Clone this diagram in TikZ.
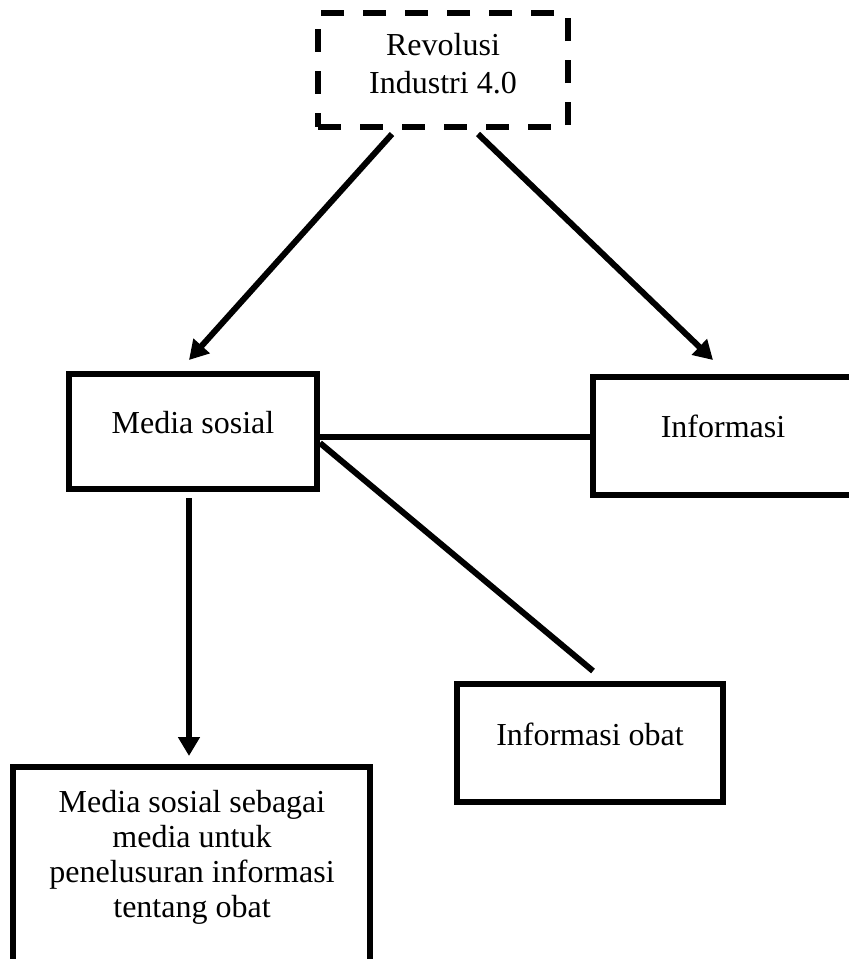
\documentclass[tikz,border=0pt]{standalone}
\usepackage{fontspec}
\setmainfont{Liberation Serif}
\usetikzlibrary{arrows.meta,calc}
\begin{document}
\begin{tikzpicture}[x=1pt,y=-1pt,
  box/.style={draw, line width=6pt, rectangle, inner sep=0pt},
  dashbox/.style={box, dash pattern=on 23pt off 19pt},
  lbl/.style={font=\fontsize{32}{35}\selectfont, align=center, inner sep=0pt},
  arr/.style={line width=6pt, -{Triangle[length=19pt,width=21pt]}},
  link/.style={line width=6pt}]
\clip (0,0) rectangle (849,959);
% boxes
\node[dashbox, minimum width=250pt, minimum height=114pt] (rev) at (443,70) {};
\node[box, minimum width=248pt, minimum height=115pt] (ms) at (193,431.5) {};
\node[box, minimum width=300pt, minimum height=118pt] (inf) at (743,436) {};
\node[box, minimum width=266pt, minimum height=118pt] (io) at (590,743) {};
\node[box, minimum width=357pt, minimum height=240pt] (bot) at (191.5,887) {};
% texts
\node[lbl, font=\fontsize{32}{38}\selectfont] (revT) at (443,63.5) {Revolusi\\Industri 4.0};
\node[lbl] (msT) at (193,423) {Media sosial};
\node[lbl] (infT) at (723,426) {Informasi};
\node[lbl] (ioT) at (590,734) {Informasi obat};
\node[lbl] (botT) at (192,857) {Media sosial sebagai\\media untuk\\penelusuran informasi\\tentang obat};
% connectors
\draw[arr] ([shift={(-51pt,-4pt)}]rev.south) -- ([shift={(-4pt,11pt)}]ms.north);
\draw[arr] ([shift={(35pt,-4pt)}]rev.south) -- ([shift={(-30pt,14pt)}]inf.north);
\coordinate (h) at ([yshift=-5.5pt]ms.east);
\draw[link] (h) -- (h -| inf.west);
\draw[link] ([yshift=-11.5pt]ms.east) -- ([shift={(3pt,10pt)}]io.north);
\draw[arr] ([shift={(-4pt,-6pt)}]ms.south) -- ([shift={(-2.5pt,8pt)}]bot.north);
\end{tikzpicture}
\end{document}
